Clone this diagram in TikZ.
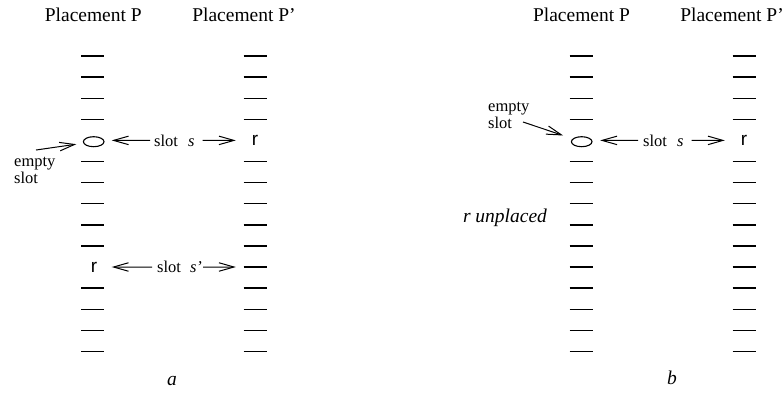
\documentclass[tikz,border=0pt]{standalone}
\usepackage{fontspec}
\setmainfont{Liberation Serif}
\newfontfamily\slotsans{Liberation Sans}
\usetikzlibrary{arrows.meta,shapes.geometric}
\begin{document}
\begin{tikzpicture}[x=1pt,y=-1pt,
  cell/.style={minimum width=38pt,minimum height=12pt,inner sep=0pt},
  slotline/.style={line width=1.4pt},
  conn/.style={line width=1pt,-{Straight Barb[length=15pt,width=8.5pt,line width=1pt]}},
  title/.style={font=\fontsize{19.5}{22}\selectfont,anchor=base,inner sep=0pt},
  lbl/.style={font=\fontsize{16.5}{16.5}\selectfont,inner sep=0pt},
  occupant/.style={font=\slotsans\fontsize{19}{20}\selectfont,anchor=base,inner sep=0pt},
  emptymark/.style={draw,ellipse,line width=1.1pt,minimum width=20.6pt,minimum height=10pt,inner sep=0pt},
]
\useasboundingbox (0,0) rectangle (783,392);

% slot cells of both placements, in both panels
\foreach \i in {0,...,14}{
  \node[cell] (a-P-\i) at (92.5,56+21.1*\i) {};
  \node[cell] (a-Q-\i) at (255,56+21.1*\i) {};
  \node[cell] (b-P-\i) at (581,56+21.1*\i) {};
  \node[cell] (b-Q-\i) at (744,56+21.1*\i) {};
}

% free slots drawn as short bars (row 4 and row 10 hold other marks)
\foreach \i in {0,...,14}{
  \ifnum\i=4\relax\else
    \ifnum\i=10\relax\else
      \draw[slotline] ([xshift=-11.5pt]a-P-\i.center) -- ([xshift=11.5pt]a-P-\i.center);
    \fi
    \draw[slotline] ([xshift=-11.5pt]a-Q-\i.center) -- ([xshift=11.5pt]a-Q-\i.center);
    \draw[slotline] ([xshift=-11.5pt]b-P-\i.center) -- ([xshift=11.5pt]b-P-\i.center);
    \draw[slotline] ([xshift=-11.5pt]b-Q-\i.center) -- ([xshift=11.5pt]b-Q-\i.center);
  \fi
}

% titles
\node[title] (a-tP) at (93.3,21.7) {Placement P};
\node[title] (a-tQ) at (244,21.7) {Placement P'};
\node[title] (b-tP) at (581.5,21.7) {Placement P};
\node[title] (b-tQ) at (732,21.7) {Placement P'};

% panel a contents
\node[emptymark] (a-hole) at (93.7,141.7) {};
\node[occupant] (a-rQ) at (255,145.7) {r};
\node[occupant] (a-rP) at (94,272.7) {r};

\node[lbl,anchor=west] (a-s) at (154,140.4) {slot\hspace{10pt}\textit{s}};
\draw[conn] ([xshift=-4pt]a-s.west) -- (a-P-4.east);
\draw[conn] ([xshift=8pt]a-s.east) -- (a-Q-4.west);

\node[lbl,anchor=west] (a-s2) at (157,267) {slot\hspace{9pt}\textit{s'}};
\draw[conn] ([xshift=-5pt]a-s2.west) -- (a-P-10.east);
\draw[conn] ([xshift=1pt]a-s2.east) -- (a-Q-10.west);

\node[lbl,align=left,anchor=base west] (a-empty) at (14,183) {empty\\slot};
\coordinate (a-empty-tail) at (36,150);
\draw[conn,shorten >=7pt] (a-empty-tail) -- (a-hole);

\node[title] (a-cap) at (172,385) {\textit{a}};

% panel b contents
\node[emptymark] (b-hole) at (581.7,141.7) {};
\node[occupant] (b-rQ) at (744,145.7) {r};

\node[lbl,anchor=west] (b-s) at (643,140.4) {slot\hspace{10pt}\textit{s}};
\draw[conn] ([xshift=-5pt]b-s.west) -- (b-P-4.east);
\draw[conn] ([xshift=8pt]b-s.east) -- (b-Q-4.west);

\node[lbl,align=left,anchor=base west] (b-empty) at (488,128) {empty\\slot};
\coordinate (b-empty-tail) at (523,122);
\draw[conn,shorten >=10pt] (b-empty-tail) -- (b-hole);

\node[title] (b-unplaced) at (505,222) {\textit{r unplaced}};
\node[title] (b-cap) at (672,384) {\textit{b}};
\end{tikzpicture}
\end{document}
